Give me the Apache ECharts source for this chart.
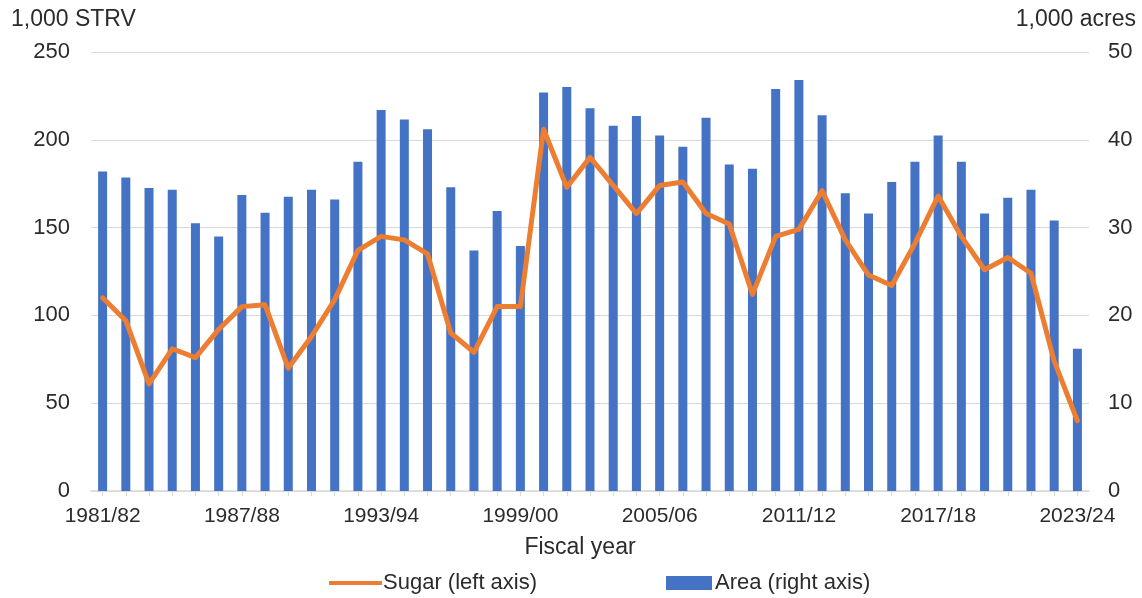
<!DOCTYPE html>
<html>
<head>
<meta charset="utf-8">
<script src="https://cdn.jsdelivr.net/npm/echarts@6/dist/echarts.min.js"></script>
<style>
  html, body { margin: 0; padding: 0; background: #fff; }
  #chart { width: 1142px; height: 598px; }
</style>
</head>
<body>
<div id="chart"></div>
<script>
// Fiscal years, 1981/82 through 2023/24
const years = [
  '1981/82','1982/83','1983/84','1984/85','1985/86','1986/87','1987/88','1988/89',
  '1989/90','1990/91','1991/92','1992/93','1993/94','1994/95','1995/96','1996/97',
  '1997/98','1998/99','1999/00','2000/01','2001/02','2002/03','2003/04','2004/05',
  '2005/06','2006/07','2007/08','2008/09','2009/10','2010/11','2011/12','2012/13',
  '2013/14','2014/15','2015/16','2016/17','2017/18','2018/19','2019/20','2020/21',
  '2021/22','2022/23','2023/24'
];

// Sugar production, 1,000 short tons raw value (left axis)
const sugar = [
  110, 97, 61, 81, 76, 92, 105, 106, 70, 88, 109, 137, 145, 143, 135, 90,
  79, 105, 105, 206, 173, 190, 174, 158, 174, 176, 158, 152, 112, 145, 149, 171,
  143, 123, 117, 141, 168, 145, 126, 133, 124, 74, 40
];

// Area harvested, 1,000 acres (right axis)
const area = [
  36.4, 35.7, 34.5, 34.3, 30.5, 29.0, 33.7, 31.7, 33.5, 34.3, 33.2, 37.5, 43.4, 42.3, 41.2, 34.6,
  27.4, 31.9, 27.9, 45.4, 46.0, 43.6, 41.6, 42.7, 40.5, 39.2, 42.5, 37.2, 36.7, 45.8, 46.8, 42.8,
  33.9, 31.6, 35.2, 37.5, 40.5, 37.5, 31.6, 33.4, 34.3, 30.8, 16.2
];

const leftTicks = [0, 50, 100, 150, 200, 250];
const rightTicks = [0, 10, 20, 30, 40, 50];

const FONT = '"Liberation Sans", Arial, sans-serif';
const TEXT = '#2b2b2b';
const ORANGE = '#ED7D31';
const BLUE = '#4472C4';

const chart = echarts.init(document.getElementById('chart'), null, { renderer: 'canvas' });

chart.setOption({
  animation: false,
  backgroundColor: '#ffffff',
  textStyle: { fontFamily: FONT, color: TEXT },
  grid: { left: 91, right: 53, top: 52, bottom: 107, containLabel: false },
  graphic: [
    { type: 'text', left: 11, top: 8,
      style: { text: '1,000 STRV', fontFamily: FONT, fontSize: 23, fill: TEXT } },
    { type: 'text', right: 6, top: 8,
      style: { text: '1,000 acres', fontFamily: FONT, fontSize: 23, fill: TEXT } }
  ],
  legend: [
    {
      data: [{ name: 'Sugar (left axis)', icon: 'rect' }],
      left: 329, top: 572, padding: 0,
      itemWidth: 53, itemHeight: 4, itemGap: 2,
      textStyle: { fontFamily: FONT, fontSize: 22, color: TEXT, padding: [0, 0, 0, -4] }
    },
    {
      data: [{ name: 'Area (right axis)', icon: 'rect' }],
      left: 666, top: 572, padding: 0,
      itemWidth: 46, itemHeight: 14, itemGap: 2,
      textStyle: { fontFamily: FONT, fontSize: 22, color: TEXT, padding: [0, 0, 0, -2] }
    }
  ],
  xAxis: {
    type: 'category',
    data: years,
    boundaryGap: true,
    name: 'Fiscal year',
    nameLocation: 'middle',
    nameGap: 45,
    nameTextStyle: { fontFamily: FONT, fontSize: 23, color: TEXT, padding: [0, 20, 0, 0] },
    axisLine: { show: true, lineStyle: { color: '#d9d9d9', width: 1.5 } },
    axisTick: { show: true, alignWithLabel: true, interval: 0, length: 5, lineStyle: { color: '#d9d9d9' } },
    axisLabel: { interval: 5, fontSize: 21, color: TEXT, margin: 15, fontFamily: FONT }
  },
  yAxis: [
    {
      type: 'value', min: leftTicks[0], max: leftTicks[leftTicks.length - 1], interval: 50,
      position: 'left',
      axisLine: { show: false }, axisTick: { show: false },
      axisLabel: { fontSize: 22, color: TEXT, margin: 21, fontFamily: FONT },
      splitLine: { show: true, lineStyle: { color: '#d9d9d9', width: 1.2 } }
    },
    {
      type: 'value', min: rightTicks[0], max: rightTicks[rightTicks.length - 1], interval: 10,
      position: 'right',
      axisLine: { show: false }, axisTick: { show: false },
      axisLabel: { fontSize: 22, color: TEXT, margin: 19, fontFamily: FONT },
      splitLine: { show: false }
    }
  ],
  series: [
    {
      name: 'Area (right axis)',
      type: 'bar',
      yAxisIndex: 1,
      data: area,
      barWidth: 9,
      itemStyle: { color: BLUE },
      z: 2
    },
    {
      name: 'Sugar (left axis)',
      type: 'line',
      yAxisIndex: 0,
      data: sugar,
      symbol: 'none',
      lineStyle: { color: ORANGE, width: 5, join: 'round', cap: 'round' },
      itemStyle: { color: ORANGE },
      z: 3
    }
  ]
});
</script>
</body>
</html>
